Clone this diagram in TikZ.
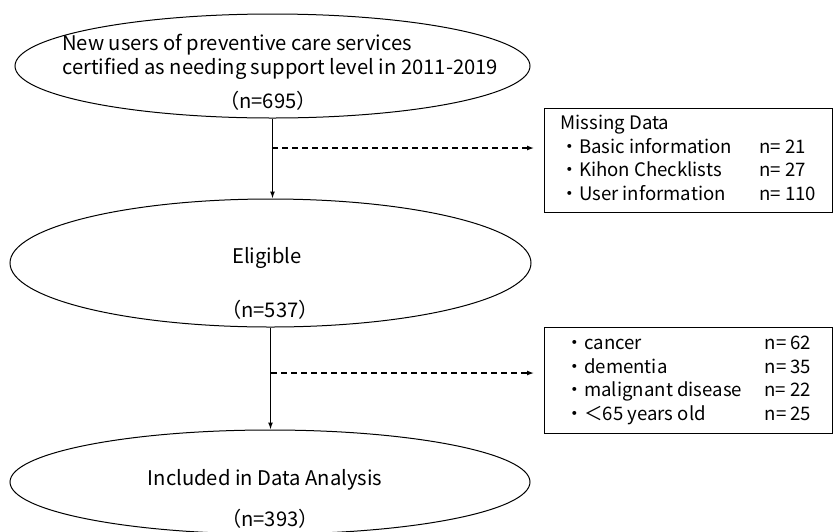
\documentclass[tikz,border=0pt]{standalone}
\usepackage{fontspec}
\setmainfont{Noto Sans CJK JP}
\usetikzlibrary{shapes.geometric,arrows.meta}

\begin{document}
\begin{tikzpicture}[x=1pt,y=1pt,
	el/.style={shape=ellipse,draw=black,line width=1pt,inner sep=0pt},
	box/.style={shape=rectangle,draw=black,line width=0.8pt,anchor=north west,minimum width=288pt,inner xsep=9pt,inner ysep=0pt,font=\fontsize{18.6}{23.7}\selectfont},
	txt/.style={inner sep=0pt,anchor=base,font=\fontsize{20.2}{24.5}\selectfont},
	arr/.style={line width=1.3pt,-{Latex[length=7pt,width=5pt]}},
	skip/.style={arr,dash pattern=on 6pt off 4pt,shorten >=10pt}]
	\useasboundingbox (0,0) rectangle (835,-531);
	\node[el,minimum width=515pt,minimum height=104pt] (u) at (272.5,-66) {};
	\node[el,minimum width=521pt,minimum height=128pt] (e) at (270.5,-263) {};
	\node[el,minimum width=520pt,minimum height=104pt] (a) at (270,-482) {};
	\node[txt,anchor=base west] (ut) at (62,-50) {\begin{tabular}[t]{@{}l@{}}New users of preventive care services\\certified as needing support level in 2011-2019\end{tabular}};
	\node[txt] (un) at (268,-108) {（n=695）};
	\node[txt] (et) at (267,-263) {Eligible};
	\node[txt] (en) at (270,-317) {（n=537）};
	\node[txt] (at) at (265,-485) {Included in Data Analysis};
	\node[txt] (an) at (270,-526) {（n=393）};
	\node[box,minimum height=104pt] (m) at (544,-108) {\begin{tabular}{@{}p{199pt}@{}l@{}}
		Missing Data & \\
		・Basic information & n= 21\\
		・Kihon Checklists & n= 27\\
		・User information & n= 110
	\end{tabular}};
	\node[box,minimum height=106pt] (x) at (544,-327) {\begin{tabular}{@{}p{199pt}@{}l@{}}
		・cancer & n= 62\\
		・dementia & n= 35\\
		・malignant disease & n= 22\\
		・＜65 years old & n= 25
	\end{tabular}};
	\coordinate (d1) at (272,-148);
	\coordinate (d2) at (271,-373);
	\draw[arr] (u.south) -- (u.south |- e.north);
	\draw[arr] (e.south) -- (e.south |- a.north);
	\draw[skip] (d1) -- (d1 -| m.west);
	\draw[skip] (d2) -- (d2 -| x.west);
\end{tikzpicture}
\end{document}
